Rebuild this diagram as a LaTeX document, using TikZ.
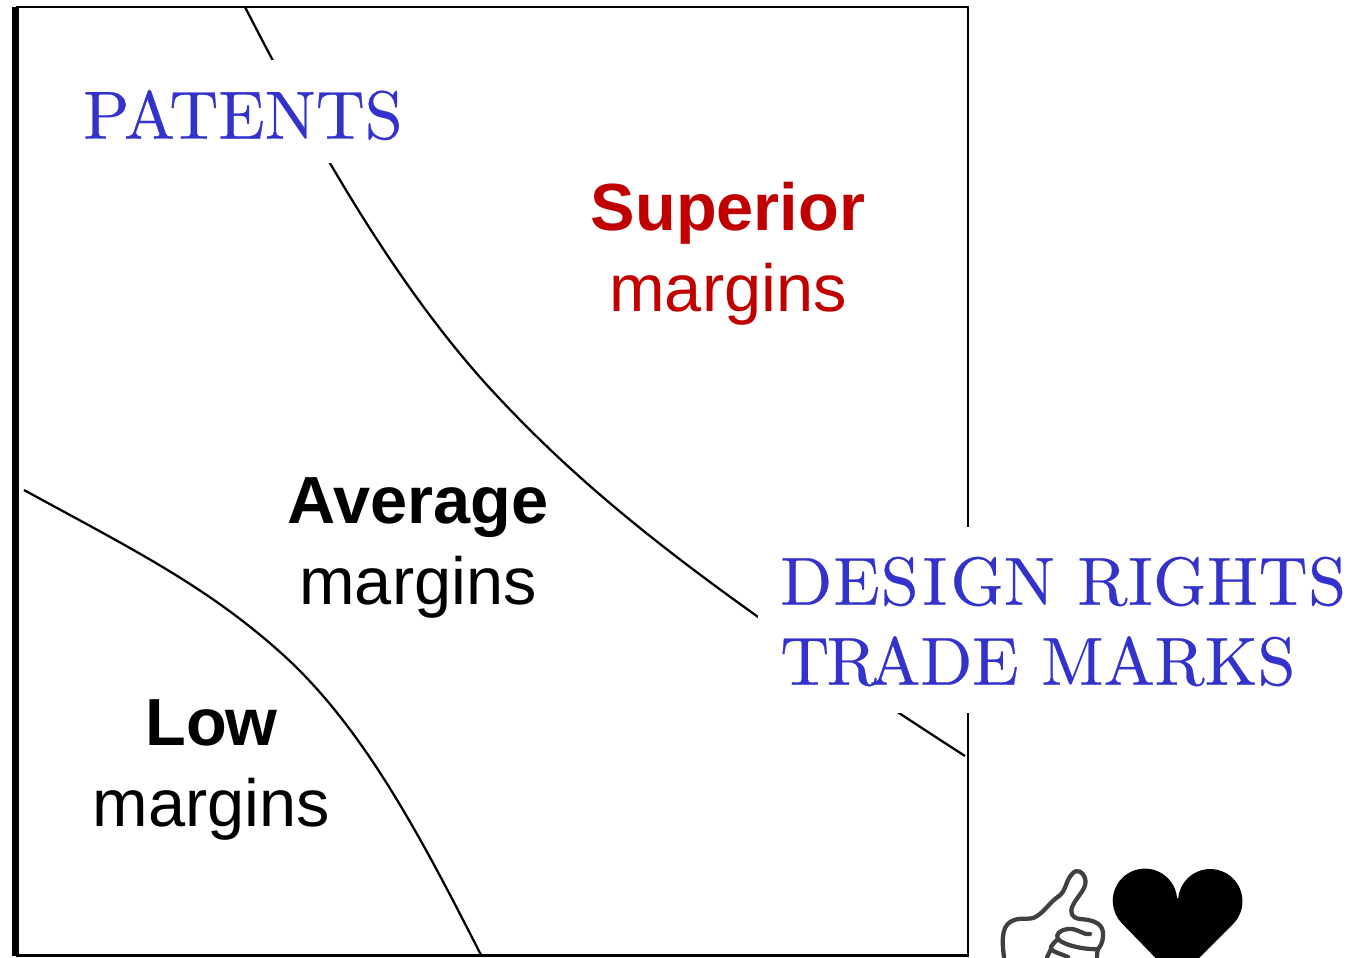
\documentclass[tikz,border=0pt]{standalone}
\usepackage{fontspec}
\setsansfont{Liberation Sans}
\newfontfamily\cmten[Extension=.otf,FakeBold=0.4]{lmroman10-regular}
\definecolor{labelblue}{RGB}{51,51,204}
\definecolor{superiorred}{RGB}{192,0,0}
\definecolor{thumbgrey}{RGB}{64,64,64}
\tikzset{
  ip/.style={font=\cmten\fontsize{51}{60}\selectfont, text=labelblue, fill=white, align=left, inner sep=0pt},
  margin/.style={font=\fontsize{50}{60.5}\selectfont\sffamily, align=center, inner sep=0pt},
  curve/.style={line width=1.7pt},
}
\begin{document}
\begin{tikzpicture}[x=0.75pt,y=-0.75pt]
\useasboundingbox (0,0) rectangle (1351,957);
\begin{scope}
\clip (0,0) rectangle (1351,957);
% frame
\coordinate (tl) at (15.5,7);
\coordinate (tr) at (968,7);
\coordinate (br) at (968,955.5);
\coordinate (bl) at (15.5,955.5);
\draw[line width=1.6pt] (tl) -- (tr) -- (br) -- (bl);
\draw[line width=5.2pt] (bl) -- (15.5,18) -- (tl);
% curves
\coordinate (c1a) at (245,7);
\coordinate (c1b) at (965,756);
\coordinate (c2a) at (24,490);
\coordinate (c2b) at (481,955);
\draw[curve] (c1a) .. controls (325,163) and (405,298) .. (498,397)
  .. controls (590,495) and (700,585) .. (c1b);
\draw[curve] (c2a) .. controls (130,548) and (205,585) .. (280,652)
  .. controls (362,725) and (420,835) .. (c2b);
% white-backed labels
\fill[white] (758,527) rectangle (1351,713);
\fill[white] (70,60) rectangle (410,163);
\node[ip,anchor=west] (patents) at (83,115) {PATENTS};
\node[ip,anchor=west] (design) at (780,621.5) {D\kern1pt E\kern.7pt S\kern3pt I\kern2.5pt GN R\kern.4pt I\kern.4pt G\kern.4pt H\kern.4pt T\kern.4pt S\\T\kern-2pt R\kern-5.5pt ADE MARKS};
\node[margin,text=superiorred] (superior) at (728,254) {\textbf{Superior}\\margins};
\node[margin] (average) at (418,548) {\textbf{Average}\\margins};
\node[margin] (low) at (211.5,770) {\textbf{Lo\kern-1.5pt w}\\margins};
% thumb
\begin{scope}[thumbgrey,line width=3.2pt,line cap=round,line join=round]
\draw (1004,957) .. controls (1001,935) and (1003,924) .. (1014,920)
  .. controls (1023,917) and (1030,921) .. (1037,916)
  .. controls (1045,911) and (1050,902) .. (1059,896)
  .. controls (1066,891) and (1066,880) .. (1072,874)
  .. controls (1077,868) and (1083,872) .. (1085,878)
  .. controls (1088,888) and (1078,895) .. (1073,905)
  .. controls (1069,913) and (1072,918) .. (1080,919)
  .. controls (1095,920) and (1104,924) .. (1103,936)
  .. controls (1103,942) and (1100,947) .. (1098,949)
  .. controls (1097,952) and (1097,955) .. (1097,957);
\draw (1090,934) .. controls (1082,935) and (1078,928) .. (1068,929)
  .. controls (1060,930) and (1055,934) .. (1058,939)
  .. controls (1063,945) and (1085,950) .. (1098,949);
\draw (1058,939) .. controls (1054,943) and (1050,946) .. (1051,949)
  .. controls (1053,952) and (1064,955) .. (1068,957);
\draw (1051,949) -- (1047,957);
\end{scope}
% heart
\fill (1177,898) arc[start angle=-5,end angle=-225,radius=32.2]
  -- (1177,980)
  -- (1233,924) arc[start angle=45,end angle=-175,radius=32.2] -- cycle;
\end{scope}
\end{tikzpicture}
\end{document}
